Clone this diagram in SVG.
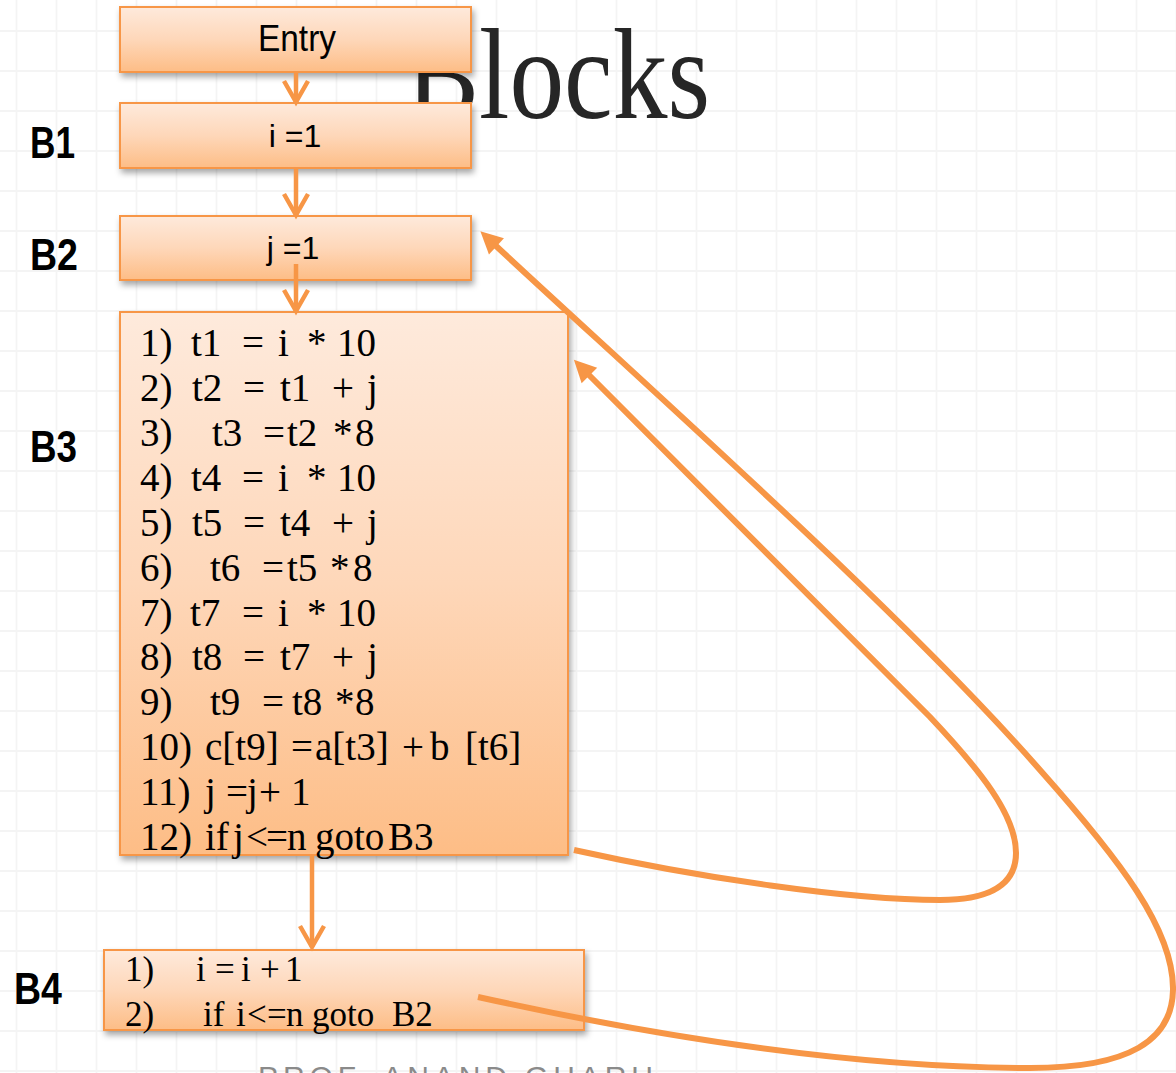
<svg xmlns="http://www.w3.org/2000/svg" width="1176" height="1073" viewBox="0 0 1176 1073">
<style>
.box{stroke:#f79646;stroke-width:2;fill:url(#g);filter:url(#sh)}
.sans{font-family:"Liberation Sans",Arial,sans-serif;fill:#000}
.lbl{font-family:"Liberation Sans",Arial,sans-serif;font-weight:bold;font-size:45px;fill:#000}
.code{font-family:"Liberation Serif","Times New Roman",serif;font-size:39px;fill:#000}
.code4{font-family:"Liberation Serif","Times New Roman",serif;font-size:35px;fill:#000}
.v{fill:none;stroke:#f79646;stroke-width:4.5}
.e{fill:none;stroke:#f79646;stroke-width:6}
</style>
<defs>
<pattern id="grid" x="0" y="0" width="40" height="40" patternUnits="userSpaceOnUse">
<path d="M16.5 0V40M0 31H40" stroke="#f4f4f4" stroke-width="1.8" fill="none"/>
</pattern>
<linearGradient id="g" x1="0" y1="0" x2="0" y2="1">
<stop offset="0" stop-color="#feeadc"/>
<stop offset="0.5" stop-color="#fed7b9"/>
<stop offset="1" stop-color="#fdbd86"/>
</linearGradient>
<filter id="sh" x="-5%" y="-5%" width="115%" height="130%">
<feDropShadow dx="2" dy="4" stdDeviation="3" flood-color="#000" flood-opacity="0.35"/>
</filter>
<marker id="chev" markerUnits="userSpaceOnUse" markerWidth="30" markerHeight="30" refX="0" refY="0" orient="auto" overflow="visible">
<path d="M-21,-12 L0,0 L-21,12" fill="none" stroke="#f79646" stroke-width="4.5"/>
</marker>
<marker id="tri" markerUnits="userSpaceOnUse" markerWidth="30" markerHeight="30" refX="0" refY="0" orient="auto" overflow="visible">
<path d="M-2,-11 L20,0 L-2,11 z" fill="#f79646"/>
</marker>
</defs>
<rect width="1176" height="1073" fill="#fff"/>
<rect width="1176" height="1073" fill="url(#grid)"/>
<text x="406" y="118" font-family="'Liberation Serif','Times New Roman',serif" font-size="130" fill="#262626" textLength="304" lengthAdjust="spacingAndGlyphs">Blocks</text>
<text x="258" y="1087" font-family="'Liberation Sans',Arial,sans-serif" font-size="30" fill="#8a8a8a" textLength="395" lengthAdjust="spacing">PROF. ANAND GHARU</text>

<g id="entry">
<rect class="box" x="120" y="7" width="351" height="65"/>
<text class="sans" x="297" y="51" font-size="36" text-anchor="middle" textLength="78" lengthAdjust="spacingAndGlyphs">Entry</text>
</g>
<g id="B1">
<text class="lbl" x="30" y="158" textLength="45" lengthAdjust="spacingAndGlyphs">B1</text>
<rect class="box" x="120" y="103" width="351" height="65"/>
<text class="sans" x="295" y="147" font-size="32" text-anchor="middle">i =1</text>
</g>
<g id="B2">
<text class="lbl" x="30" y="270" textLength="48" lengthAdjust="spacingAndGlyphs">B2</text>
<rect class="box" x="120" y="216" width="351" height="64"/>
<text class="sans" x="293" y="259" font-size="32" text-anchor="middle">j =1</text>
</g>
<g id="B3">
<text class="lbl" x="30" y="462" textLength="47" lengthAdjust="spacingAndGlyphs">B3</text>
<rect class="box" x="120" y="312" width="448" height="543"/>
<text class="code" y="356"><tspan x="140">1)</tspan><tspan x="191">t1</tspan><tspan x="242">=</tspan><tspan x="278">i</tspan><tspan x="307">*</tspan><tspan x="337">10</tspan></text>
<text class="code" y="401"><tspan x="140">2)</tspan><tspan x="192">t2</tspan><tspan x="243">=</tspan><tspan x="280">t1</tspan><tspan x="332">+</tspan><tspan x="367">j</tspan></text>
<text class="code" y="446"><tspan x="140">3)</tspan><tspan x="212">t3</tspan><tspan x="263">=</tspan><tspan x="287">t2</tspan><tspan x="333">*</tspan><tspan x="355">8</tspan></text>
<text class="code" y="491"><tspan x="140">4)</tspan><tspan x="191">t4</tspan><tspan x="242">=</tspan><tspan x="278">i</tspan><tspan x="307">*</tspan><tspan x="337">10</tspan></text>
<text class="code" y="536"><tspan x="140">5)</tspan><tspan x="192">t5</tspan><tspan x="243">=</tspan><tspan x="280">t4</tspan><tspan x="332">+</tspan><tspan x="367">j</tspan></text>
<text class="code" y="581"><tspan x="140">6)</tspan><tspan x="210">t6</tspan><tspan x="262">=</tspan><tspan x="287">t5</tspan><tspan x="330">*</tspan><tspan x="353">8</tspan></text>
<text class="code" y="626"><tspan x="140">7)</tspan><tspan x="190">t7</tspan><tspan x="242">=</tspan><tspan x="278">i</tspan><tspan x="307">*</tspan><tspan x="337">10</tspan></text>
<text class="code" y="670"><tspan x="140">8)</tspan><tspan x="192">t8</tspan><tspan x="243">=</tspan><tspan x="280">t7</tspan><tspan x="332">+</tspan><tspan x="367">j</tspan></text>
<text class="code" y="715"><tspan x="140">9)</tspan><tspan x="210">t9</tspan><tspan x="262">=</tspan><tspan x="292">t8</tspan><tspan x="335">*</tspan><tspan x="355">8</tspan></text>
<text class="code" y="760"><tspan x="140">10)</tspan><tspan x="205">c[t9]</tspan><tspan x="291">=</tspan><tspan x="315">a[t3]</tspan><tspan x="402">+</tspan><tspan x="430">b</tspan><tspan x="465">[t6]</tspan></text>
<text class="code" y="805"><tspan x="140">11)</tspan><tspan x="205">j</tspan><tspan x="226">=</tspan><tspan x="247">j</tspan><tspan x="259">+</tspan><tspan x="291">1</tspan></text>
<text class="code" y="850"><tspan x="140">12)</tspan><tspan x="205">if</tspan><tspan x="233">j</tspan><tspan x="246">&lt;</tspan><tspan x="266">=</tspan><tspan x="287">n</tspan><tspan x="315">goto</tspan><tspan x="388">B3</tspan></text>
</g>
<g id="B4">
<text class="lbl" x="14" y="1004" textLength="48" lengthAdjust="spacingAndGlyphs">B4</text>
<rect class="box" x="104" y="950" width="480" height="80"/>
<text class="code4" y="981"><tspan x="125">1)</tspan><tspan x="196">i</tspan><tspan x="215">=</tspan><tspan x="241">i</tspan><tspan x="260">+</tspan><tspan x="285">1</tspan></text>
<text class="code4" y="1026"><tspan x="125">2)</tspan><tspan x="203">if</tspan><tspan x="236">i</tspan><tspan x="247">&lt;</tspan><tspan x="267">=</tspan><tspan x="286">n</tspan><tspan x="312">goto</tspan><tspan x="392">B2</tspan></text>
</g>
<g id="connectors">
<path class="v" d="M296 72 V102" marker-end="url(#chev)"/>
<path class="v" d="M296 168 V215" marker-end="url(#chev)"/>
<path class="v" d="M296 264 V311" marker-end="url(#chev)"/>
<path class="v" d="M312 855 V947" marker-end="url(#chev)"/>
<path class="e" d="M574 850 C700 878 850 900 940 900 C990 900 1016 885 1016 853 C1016 815 980 770 930 717 L588 374" marker-end="url(#tri)"/>
<path class="e" d="M478 997 C650 1035 850 1068 1030 1068 C1130 1068 1172 1040 1173 990 C1174 930 1120 860 1040 770 C900 610 640 380 495 245" marker-end="url(#tri)"/>
</g>
</svg>
